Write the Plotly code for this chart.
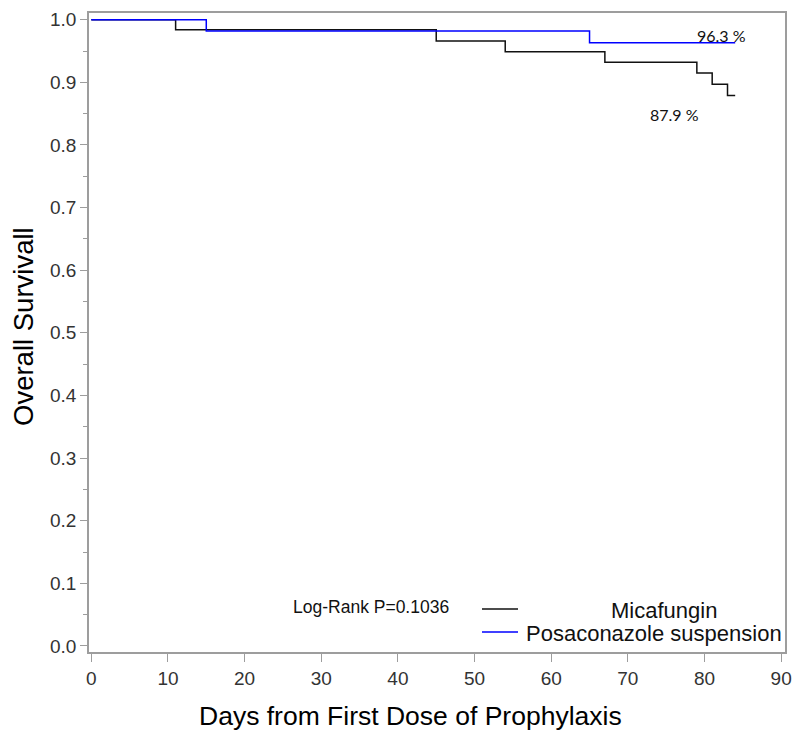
import plotly.graph_objects as go

# Kaplan-Meier step data
mica_days = [0, 11, 45, 54, 67, 79, 81, 83, 84]
mica_surv = [1.0, 0.984, 0.966, 0.949, 0.932, 0.915, 0.897, 0.879, 0.879]
posa_days = [0, 15, 65, 84]
posa_surv = [1.0, 0.982, 0.963, 0.963]

series_names = ["Micafungin", "Posaconazole suspension"]
end_labels = ["87.9 %", "96.3 %"]
pvalue_text = "Log-Rank P=0.1036"
x_title = "Days from First Dose of Prophylaxis"
y_title = "Overall Survivall"

x_ticks = list(range(0, 91, 10))
y_ticks = [round(i * 0.1, 1) for i in range(11)]

fig = go.Figure()
fig.add_trace(go.Scatter(x=mica_days, y=mica_surv, mode="lines", line_shape="hv",
                         line=dict(color="#111111", width=1.5), name=series_names[0],
                         showlegend=False))
fig.add_trace(go.Scatter(x=posa_days, y=posa_surv, mode="lines", line_shape="hv",
                         line=dict(color="#0000ff", width=1.5), name=series_names[1],
                         showlegend=False))

axis_col = "#9d9d9d"
tick_font = dict(family="Liberation Sans, Arial, sans-serif", size=19, color="#333333")

fig.update_xaxes(range=[-0.3, 90.5], tickvals=x_ticks, ticktext=[str(v) for v in x_ticks],
                 automargin=False,
                 showline=True, linecolor=axis_col, linewidth=1.5, mirror=True,
                 ticks="outside", ticklen=8, tickcolor=axis_col, tickwidth=1.2,
                 showgrid=False, zeroline=False, tickfont=tick_font)
fig.update_yaxes(range=[-0.0096, 1.0107], tickvals=y_ticks, ticktext=[f"{v:.1f}" for v in y_ticks],
                 automargin=False,
                 showline=True, linecolor=axis_col, linewidth=1.5, mirror=True,
                 ticks="outside", ticklen=7, tickcolor=axis_col, tickwidth=1.2,
                 minor=dict(dtick=0.05, ticks="outside", ticklen=4, tickcolor=axis_col, tickwidth=1.2, showgrid=False),
                 showgrid=False, zeroline=False, tickfont=tick_font)

label_font = dict(family="Lato, Open Sans, sans-serif", size=16, color="#111111")
fig.add_annotation(x=82.2, y=0.974, text=end_labels[1], showarrow=False, font=label_font)
fig.add_annotation(x=76.1, y=0.848, text=end_labels[0], showarrow=False, font=label_font)

# page body has an 8px margin: plot frame in page pixels is x 89..785, y 13..652
fig.update_layout(
    width=792, height=731,
    margin=dict(l=81, r=15, t=5, b=87),
    paper_bgcolor="white", plot_bgcolor="white",
)

# convert page-pixel positions to paper coords for titles and the hand-built legend
L, R, T, B = 89, 785, 13, 652
def px(xp):
    return (xp - L) / (R - L)
def py(yp):
    return (B - yp) / (B - T)

title_font = dict(family="Liberation Sans, Arial, sans-serif", size=26.5, color="#000000")
fig.add_annotation(x=px(410), y=py(716), xref="paper", yref="paper", text=x_title, showarrow=False,
                   xanchor="center", yanchor="middle", font=title_font)
fig.add_annotation(x=px(23), y=py(327), xref="paper", yref="paper", text=y_title, showarrow=False,
                   textangle=-90, xanchor="center", yanchor="middle",
                   font=dict(family="Liberation Sans, Arial, sans-serif", size=27.5, color="#000000"))

leg_font = dict(family="Liberation Sans, Arial, sans-serif", size=22, color="#111111")
fig.add_annotation(x=px(371), y=py(607), xref="paper", yref="paper", text=pvalue_text, showarrow=False,
                   xanchor="center", yanchor="middle",
                   font=dict(family="Liberation Sans, Arial, sans-serif", size=17.5, color="#111111"))
fig.add_annotation(x=px(664), y=py(610), xref="paper", yref="paper", text=series_names[0],
                   showarrow=False, font=leg_font, xanchor="center", yanchor="middle")
fig.add_annotation(x=px(784), y=py(633), xref="paper", yref="paper", text=series_names[1],
                   showarrow=False, font=leg_font, xanchor="right", yanchor="middle")
fig.add_shape(type="line", xref="paper", yref="paper", x0=px(482), x1=px(518), y0=py(609), y1=py(609),
              line=dict(color="#111111", width=1.5))
fig.add_shape(type="line", xref="paper", yref="paper", x0=px(482), x1=px(518), y0=py(632), y1=py(632),
              line=dict(color="#0000ff", width=1.5))

fig.write_html("out.html")
